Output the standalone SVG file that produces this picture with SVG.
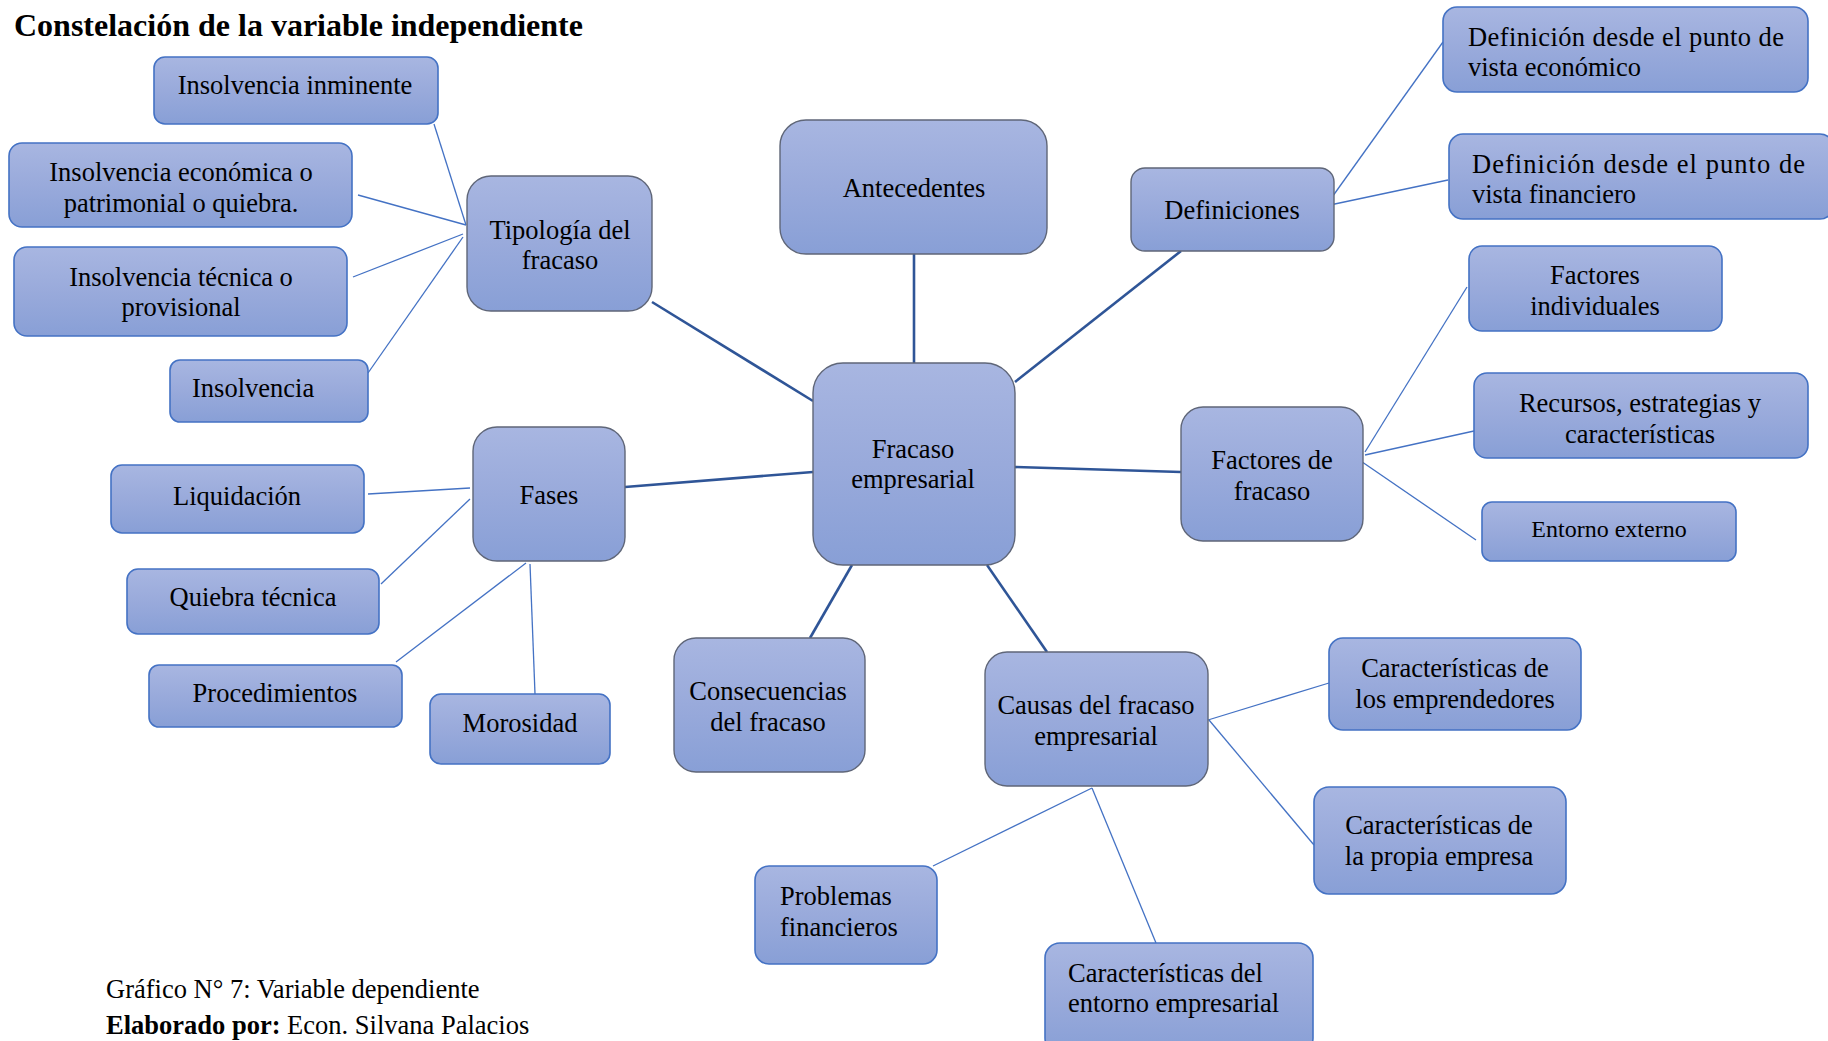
<svg xmlns="http://www.w3.org/2000/svg" width="1828" height="1041" viewBox="0 0 1828 1041">
  <defs>
    <linearGradient id="fill" x1="0" y1="0" x2="0" y2="1">
      <stop offset="0" stop-color="#A8B6E1"/>
      <stop offset="0.5" stop-color="#99AADB"/>
      <stop offset="1" stop-color="#889FD6"/>
    </linearGradient>
    <style>
      .hub rect { fill: url(#fill); stroke: #5F6678; stroke-width: 1.4; }
      .leaf rect { fill: url(#fill); stroke: #4472C4; stroke-width: 1.6; }
      text { font-family: "Liberation Serif", "Times New Roman", serif; font-size: 26.5px; fill: #000; }
      .c { text-anchor: middle; }
      .title { font-weight: bold; font-size: 32px; }
      .main line { stroke: #2F5597; stroke-width: 2.6; }
      .sub line { stroke: #4472C4; stroke-width: 1.3; }
    </style>
  </defs>
  <rect width="1828" height="1041" fill="#fff"/>

  <text class="title" x="14" y="36">Constelación de la variable independiente</text>

  <!-- connectors -->
  <g id="connectors">
    <g class="main">
      <line x1="914" y1="254" x2="914" y2="363"/>
      <line x1="652" y1="302" x2="813" y2="401"/>
      <line x1="1181" y1="251" x2="1015" y2="382"/>
      <line x1="625" y1="487" x2="813" y2="472"/>
      <line x1="1181" y1="472" x2="1015" y2="467"/>
      <line x1="810" y1="638" x2="852" y2="565"/>
      <line x1="1047" y1="652" x2="987" y2="565"/>
    </g>
    <g class="sub">
      <line x1="434" y1="124" x2="466" y2="225"/>
      <line x1="358" y1="195" x2="466" y2="225"/>
      <line x1="353" y1="277" x2="463" y2="234"/>
      <line x1="368" y1="373" x2="463" y2="237"/>
      <line x1="1443" y1="42" x2="1330" y2="200"/>
      <line x1="1448" y1="180" x2="1330" y2="205"/>
      <line x1="1467" y1="287" x2="1365" y2="452"/>
      <line x1="1474" y1="431" x2="1365" y2="455"/>
      <line x1="1476" y1="540" x2="1352" y2="455"/>
      <line x1="368" y1="494" x2="470" y2="488"/>
      <line x1="381" y1="584" x2="470" y2="499"/>
      <line x1="396" y1="662" x2="526" y2="563"/>
      <line x1="535" y1="694" x2="530" y2="564"/>
      <line x1="1329" y1="683" x2="1208" y2="720"/>
      <line x1="1314" y1="845" x2="1209" y2="720"/>
      <line x1="933" y1="866" x2="1092" y2="788"/>
      <line x1="1156" y1="943" x2="1092" y2="788"/>
    </g>
  </g>

  <!-- central node -->
  <g id="fracaso" class="hub">
    <rect x="813" y="363" width="202" height="202" rx="30"/>
    <text class="c" x="913" y="458">Fracaso</text>
    <text class="c" x="913" y="488">empresarial</text>
  </g>

  <!-- first ring -->
  <g id="antecedentes" class="hub">
    <rect x="780" y="120" width="267" height="134" rx="26"/>
    <text class="c" x="914" y="197">Antecedentes</text>
  </g>
  <g id="tipologia" class="hub">
    <rect x="467" y="176" width="185" height="135" rx="24"/>
    <text class="c" x="560" y="239">Tipología del</text>
    <text class="c" x="560" y="269">fracaso</text>
  </g>
  <g id="definiciones" class="hub">
    <rect x="1131" y="168" width="203" height="83" rx="14"/>
    <text class="c" x="1232" y="219">Definiciones</text>
  </g>
  <g id="factores" class="hub">
    <rect x="1181" y="407" width="182" height="134" rx="22"/>
    <text class="c" x="1272" y="469">Factores de</text>
    <text class="c" x="1272" y="500">fracaso</text>
  </g>
  <g id="fases" class="hub">
    <rect x="473" y="427" width="152" height="134" rx="24"/>
    <text class="c" x="549" y="504">Fases</text>
  </g>
  <g id="consecuencias" class="hub">
    <rect x="674" y="638" width="191" height="134" rx="22"/>
    <text class="c" x="768" y="700">Consecuencias</text>
    <text class="c" x="768" y="731">del fracaso</text>
  </g>
  <g id="causas" class="hub">
    <rect x="985" y="652" width="223" height="134" rx="22"/>
    <text class="c" x="1096" y="714">Causas del fracaso</text>
    <text class="c" x="1096" y="745">empresarial</text>
  </g>

  <!-- tipología leaves -->
  <g id="insolvencia-inminente" class="leaf">
    <rect x="154" y="57" width="284" height="67" rx="11"/>
    <text class="c" x="295" y="94">Insolvencia inminente</text>
  </g>
  <g id="insolvencia-economica" class="leaf">
    <rect x="9" y="143" width="343" height="84" rx="13"/>
    <text class="c" x="181" y="181">Insolvencia económica o</text>
    <text class="c" x="181" y="212">patrimonial o quiebra.</text>
  </g>
  <g id="insolvencia-tecnica" class="leaf">
    <rect x="14" y="247" width="333" height="89" rx="13"/>
    <text class="c" x="181" y="286">Insolvencia técnica o</text>
    <text class="c" x="181" y="316">provisional</text>
  </g>
  <g id="insolvencia" class="leaf">
    <rect x="170" y="360" width="198" height="62" rx="10"/>
    <text x="192" y="397">Insolvencia</text>
  </g>

  <!-- definiciones leaves -->
  <g id="def-economico" class="leaf">
    <rect x="1443" y="7" width="365" height="85" rx="14"/>
    <text x="1468" y="46" textLength="316" lengthAdjust="spacing">Definición desde el punto de</text>
    <text x="1468" y="76">vista económico</text>
  </g>
  <g id="def-financiero" class="leaf">
    <rect x="1449" y="134" width="385" height="85" rx="14"/>
    <text x="1472" y="173" textLength="333" lengthAdjust="spacing">Definición desde el punto de</text>
    <text x="1472" y="203">vista financiero</text>
  </g>

  <!-- factores leaves -->
  <g id="factores-individuales" class="leaf">
    <rect x="1469" y="246" width="253" height="85" rx="13"/>
    <text class="c" x="1595" y="284">Factores</text>
    <text class="c" x="1595" y="315">individuales</text>
  </g>
  <g id="recursos" class="leaf">
    <rect x="1474" y="373" width="334" height="85" rx="13"/>
    <text class="c" x="1640" y="412">Recursos, estrategias y</text>
    <text class="c" x="1640" y="443">características</text>
  </g>
  <g id="entorno-externo" class="leaf">
    <rect x="1482" y="502" width="254" height="59" rx="10"/>
    <text class="c" x="1609" y="537" style="font-size:24px">Entorno externo</text>
  </g>

  <!-- fases leaves -->
  <g id="liquidacion" class="leaf">
    <rect x="111" y="465" width="253" height="68" rx="11"/>
    <text class="c" x="237" y="505">Liquidación</text>
  </g>
  <g id="quiebra-tecnica" class="leaf">
    <rect x="127" y="569" width="252" height="65" rx="11"/>
    <text class="c" x="253" y="606">Quiebra técnica</text>
  </g>
  <g id="procedimientos" class="leaf">
    <rect x="149" y="665" width="253" height="62" rx="10"/>
    <text class="c" x="275" y="702">Procedimientos</text>
  </g>
  <g id="morosidad" class="leaf">
    <rect x="430" y="694" width="180" height="70" rx="11"/>
    <text class="c" x="520" y="732">Morosidad</text>
  </g>

  <!-- causas leaves -->
  <g id="car-emprendedores" class="leaf">
    <rect x="1329" y="638" width="252" height="92" rx="14"/>
    <text class="c" x="1455" y="677">Características de</text>
    <text class="c" x="1455" y="708">los emprendedores</text>
  </g>
  <g id="car-empresa" class="leaf">
    <rect x="1314" y="787" width="252" height="107" rx="15"/>
    <text class="c" x="1439" y="834">Características de</text>
    <text class="c" x="1439" y="865">la propia empresa</text>
  </g>
  <g id="problemas" class="leaf">
    <rect x="755" y="866" width="182" height="98" rx="14"/>
    <text x="780" y="905">Problemas</text>
    <text x="780" y="936">financieros</text>
  </g>
  <g id="car-entorno" class="leaf">
    <rect x="1045" y="943" width="268" height="110" rx="15"/>
    <text x="1068" y="982">Características del</text>
    <text x="1068" y="1012">entorno empresarial</text>
  </g>

  <!-- caption -->
  <text x="106" y="998">Gráfico N° 7: Variable dependiente</text>
  <text x="106" y="1034"><tspan font-weight="bold">Elaborado por:</tspan> Econ. Silvana Palacios</text>
</svg>
